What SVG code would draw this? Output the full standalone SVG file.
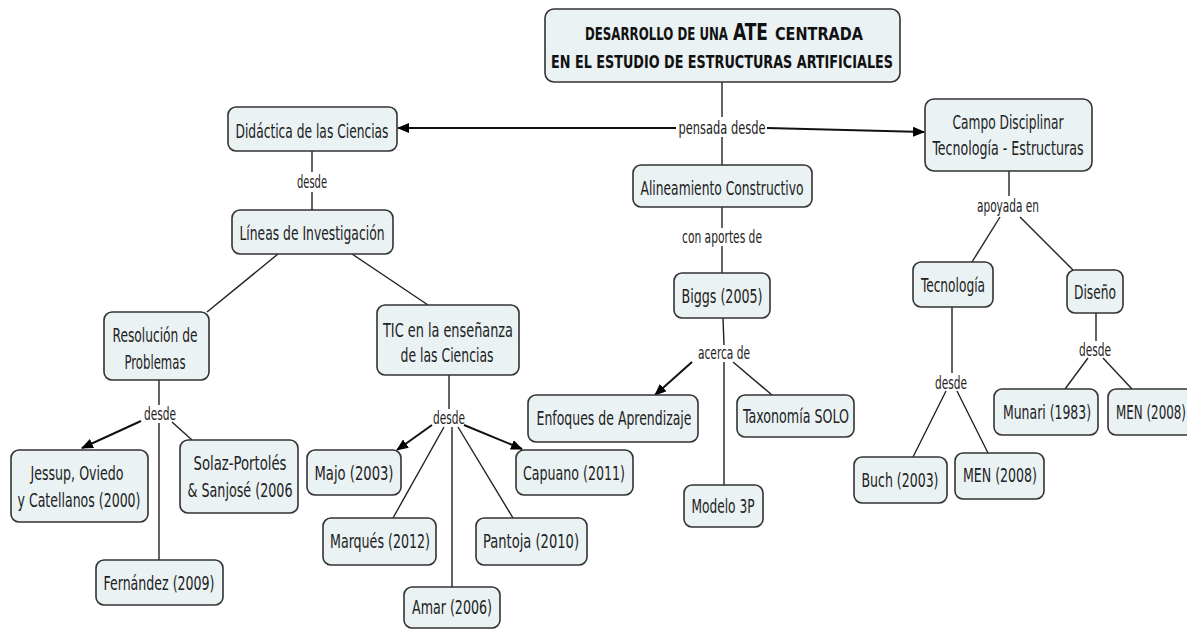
<svg xmlns="http://www.w3.org/2000/svg" width="1187" height="630" viewBox="0 0 1187 630">
<defs>
<style>
.box{fill:#eaf2f4;stroke:#333;stroke-width:1.6}
.t{font-family:"DejaVu Sans Condensed","DejaVu Sans",sans-serif;font-size:20px;fill:#222;text-anchor:middle}
.lb{font-family:"DejaVu Sans Condensed","DejaVu Sans",sans-serif;font-size:17px;fill:#222;text-anchor:middle}
.title{font-family:"DejaVu Sans Condensed","DejaVu Sans",sans-serif;font-size:18px;font-weight:bold;fill:#111;text-anchor:start}
.big{font-size:23px}
.c{stroke:#222;stroke-width:1.4;fill:none}
.a{stroke:#111;stroke-width:2;fill:none}
</style>
<marker id="arr" viewBox="0 0 12 10" refX="11" refY="5" markerWidth="12" markerHeight="10" markerUnits="userSpaceOnUse" orient="auto">
<path d="M0,0 L12,5 L0,10 Z" fill="#000"/>
</marker>
</defs>
<rect width="1187" height="630" fill="#fff"/>

<g id="connectors">
<line class="c" x1="722" y1="82" x2="722" y2="117"/>
<line class="c" x1="722" y1="137" x2="722" y2="165"/>
<line class="a" x1="676" y1="128" x2="398" y2="128" marker-end="url(#arr)"/>
<line class="a" x1="767" y1="128" x2="924" y2="132" marker-end="url(#arr)"/>
<line class="c" x1="312" y1="151" x2="312" y2="172"/>
<line class="c" x1="312" y1="192" x2="312" y2="210"/>
<line class="c" x1="278" y1="254" x2="207" y2="312"/>
<line class="c" x1="352" y1="254" x2="428" y2="305"/>
<line class="c" x1="159" y1="380" x2="159" y2="405"/>
<line class="a" x1="141" y1="421" x2="82" y2="448" marker-end="url(#arr)"/>
<line class="c" x1="172" y1="422" x2="192" y2="440"/>
<line class="c" x1="159" y1="423" x2="159" y2="560"/>
<line class="c" x1="449" y1="375" x2="449" y2="409"/>
<line class="a" x1="432" y1="425" x2="397" y2="450" marker-end="url(#arr)"/>
<line class="c" x1="444" y1="427" x2="393" y2="518"/>
<line class="c" x1="452" y1="427" x2="452" y2="587"/>
<line class="c" x1="458" y1="427" x2="513" y2="518"/>
<line class="a" x1="464" y1="425" x2="522" y2="449" marker-end="url(#arr)"/>
<line class="c" x1="722" y1="207" x2="722" y2="228"/>
<line class="c" x1="722" y1="246" x2="722" y2="273"/>
<line class="c" x1="723" y1="318" x2="724" y2="345"/>
<line class="a" x1="692" y1="362" x2="655" y2="395" marker-end="url(#arr)"/>
<line class="c" x1="733" y1="362" x2="772" y2="395"/>
<line class="c" x1="724" y1="362" x2="724" y2="485"/>
<line class="c" x1="1009" y1="171" x2="1009" y2="196"/>
<line class="c" x1="1000" y1="217" x2="972" y2="262"/>
<line class="c" x1="1020" y1="217" x2="1073" y2="270"/>
<line class="c" x1="952" y1="307" x2="952" y2="373"/>
<line class="c" x1="946" y1="391" x2="913" y2="457"/>
<line class="c" x1="957" y1="391" x2="988" y2="453"/>
<line class="c" x1="1096" y1="313" x2="1096" y2="341"/>
<line class="c" x1="1088" y1="358" x2="1065" y2="389"/>
<line class="c" x1="1103" y1="358" x2="1132" y2="389"/>
<text class="lb" x="722" y="134" textLength="87" lengthAdjust="spacingAndGlyphs">pensada  desde</text>
<text class="lb" x="312" y="188" textLength="30" lengthAdjust="spacingAndGlyphs">desde</text>
<text class="lb" x="160" y="420" textLength="32" lengthAdjust="spacingAndGlyphs">desde</text>
<text class="lb" x="449" y="424" textLength="32" lengthAdjust="spacingAndGlyphs">desde</text>
<text class="lb" x="722" y="243" textLength="80" lengthAdjust="spacingAndGlyphs">con aportes de</text>
<text class="lb" x="724" y="359" textLength="52" lengthAdjust="spacingAndGlyphs">acerca de</text>
<text class="lb" x="1008" y="212" textLength="62" lengthAdjust="spacingAndGlyphs">apoyada en</text>
<text class="lb" x="951" y="389" textLength="32" lengthAdjust="spacingAndGlyphs">desde</text>
<text class="lb" x="1095" y="356" textLength="32" lengthAdjust="spacingAndGlyphs">desde</text>
</g>

<g id="n-title">
<rect class="box" x="545" y="9" width="355" height="73" rx="9"/>
<text class="title" x="585" y="40" textLength="143" lengthAdjust="spacingAndGlyphs">DESARROLLO DE UNA</text>
<text class="title big" x="733" y="40" textLength="35" lengthAdjust="spacingAndGlyphs">ATE</text>
<text class="title" x="775" y="40" textLength="88" lengthAdjust="spacingAndGlyphs">CENTRADA</text>
<text class="title" x="551" y="68" textLength="342" lengthAdjust="spacingAndGlyphs">EN EL ESTUDIO DE ESTRUCTURAS ARTIFICIALES</text>
</g>

<g id="n-didactica">
<rect class="box" x="228" y="107" width="169" height="44" rx="8"/>
<text class="t" x="312" y="138" textLength="153" lengthAdjust="spacingAndGlyphs">Didáctica de las Ciencias</text>
</g>
<g id="n-lineas">
<rect class="box" x="232" y="210" width="161" height="44" rx="8"/>
<text class="t" x="312" y="240" textLength="145" lengthAdjust="spacingAndGlyphs">Líneas de Investigación</text>
</g>
<g id="n-resolucion">
<rect class="box" x="104" y="312" width="105" height="68" rx="8"/>
<text class="t" x="155" y="342" textLength="85" lengthAdjust="spacingAndGlyphs">Resolución de</text>
<text class="t" x="155" y="369" textLength="61" lengthAdjust="spacingAndGlyphs">Problemas</text>
</g>
<g id="n-jessup">
<rect class="box" x="11" y="450" width="137" height="72" rx="8"/>
<text class="t" x="77" y="480" textLength="93" lengthAdjust="spacingAndGlyphs">Jessup, Oviedo</text>
<text class="t" x="79" y="507" textLength="123" lengthAdjust="spacingAndGlyphs">y Catellanos (2000)</text>
</g>
<g id="n-solaz">
<rect class="box" x="180" y="440" width="118" height="73" rx="8"/>
<text class="t" x="240" y="470" textLength="93" lengthAdjust="spacingAndGlyphs">Solaz-Portolés</text>
<text class="t" x="240" y="497" textLength="105" lengthAdjust="spacingAndGlyphs">&amp; Sanjosé (2006</text>
</g>
<g id="n-fernandez">
<rect class="box" x="96" y="560" width="127" height="45" rx="8"/>
<text class="t" x="159" y="590" textLength="111" lengthAdjust="spacingAndGlyphs">Fernández (2009)</text>
</g>
<g id="n-tic">
<rect class="box" x="377" y="305" width="142" height="70" rx="8"/>
<text class="t" x="448" y="337" textLength="130" lengthAdjust="spacingAndGlyphs">TIC en la enseñanza</text>
<text class="t" x="447" y="362" textLength="93" lengthAdjust="spacingAndGlyphs">de las Ciencias</text>
</g>
<g id="n-majo">
<rect class="box" x="307" y="450" width="94" height="45" rx="8"/>
<text class="t" x="354" y="480" textLength="79" lengthAdjust="spacingAndGlyphs">Majo (2003)</text>
</g>
<g id="n-marques">
<rect class="box" x="323" y="518" width="113" height="47" rx="8"/>
<text class="t" x="380" y="548" textLength="100" lengthAdjust="spacingAndGlyphs">Marqués (2012)</text>
</g>
<g id="n-amar">
<rect class="box" x="404" y="587" width="96" height="41" rx="8"/>
<text class="t" x="452" y="614" textLength="80" lengthAdjust="spacingAndGlyphs">Amar (2006)</text>
</g>
<g id="n-pantoja">
<rect class="box" x="476" y="518" width="111" height="47" rx="8"/>
<text class="t" x="531" y="548" textLength="96" lengthAdjust="spacingAndGlyphs">Pantoja (2010)</text>
</g>
<g id="n-capuano">
<rect class="box" x="516" y="450" width="117" height="45" rx="8"/>
<text class="t" x="574" y="480" textLength="102" lengthAdjust="spacingAndGlyphs">Capuano (2011)</text>
</g>
<g id="n-alineamiento">
<rect class="box" x="633" y="165" width="179" height="42" rx="8"/>
<text class="t" x="722" y="195" textLength="163" lengthAdjust="spacingAndGlyphs">Alineamiento Constructivo</text>
</g>
<g id="n-biggs">
<rect class="box" x="674" y="273" width="96" height="45" rx="8"/>
<text class="t" x="722" y="303" textLength="81" lengthAdjust="spacingAndGlyphs">Biggs (2005)</text>
</g>
<g id="n-enfoques">
<rect class="box" x="528" y="395" width="170" height="47" rx="8"/>
<text class="t" x="614" y="425" textLength="155" lengthAdjust="spacingAndGlyphs">Enfoques de Aprendizaje</text>
</g>
<g id="n-taxonomia">
<rect class="box" x="737" y="395" width="117" height="42" rx="8"/>
<text class="t" x="796" y="423" textLength="106" lengthAdjust="spacingAndGlyphs">Taxonomía SOLO</text>
</g>
<g id="n-modelo">
<rect class="box" x="684" y="485" width="79" height="42" rx="8"/>
<text class="t" x="723" y="513" textLength="63" lengthAdjust="spacingAndGlyphs">Modelo 3P</text>
</g>
<g id="n-campo">
<rect class="box" x="925" y="99" width="167" height="72" rx="9"/>
<text class="t" x="1008" y="129" textLength="111" lengthAdjust="spacingAndGlyphs">Campo Disciplinar</text>
<text class="t" x="1008" y="155" textLength="151" lengthAdjust="spacingAndGlyphs">Tecnología - Estructuras</text>
</g>
<g id="n-tecnologia">
<rect class="box" x="913" y="262" width="80" height="45" rx="8"/>
<text class="t" x="953" y="292" textLength="64" lengthAdjust="spacingAndGlyphs">Tecnología</text>
</g>
<g id="n-diseno">
<rect class="box" x="1067" y="270" width="56" height="43" rx="8"/>
<text class="t" x="1095" y="299" textLength="42" lengthAdjust="spacingAndGlyphs">Diseño</text>
</g>
<g id="n-buch">
<rect class="box" x="854" y="457" width="93" height="46" rx="8"/>
<text class="t" x="900" y="487" textLength="77" lengthAdjust="spacingAndGlyphs">Buch (2003)</text>
</g>
<g id="n-men1">
<rect class="box" x="955" y="453" width="89" height="46" rx="8"/>
<text class="t" x="1000" y="482" textLength="74" lengthAdjust="spacingAndGlyphs">MEN (2008)</text>
</g>
<g id="n-munari">
<rect class="box" x="994" y="389" width="104" height="46" rx="8"/>
<text class="t" x="1047" y="419" textLength="88" lengthAdjust="spacingAndGlyphs">Munari (1983)</text>
</g>
<g id="n-men2">
<rect class="box" x="1108" y="389" width="95" height="46" rx="8"/>
<text class="t" x="1116" y="419" style="text-anchor:start" textLength="70" lengthAdjust="spacingAndGlyphs">MEN (2008)</text>
</g>
</svg>
